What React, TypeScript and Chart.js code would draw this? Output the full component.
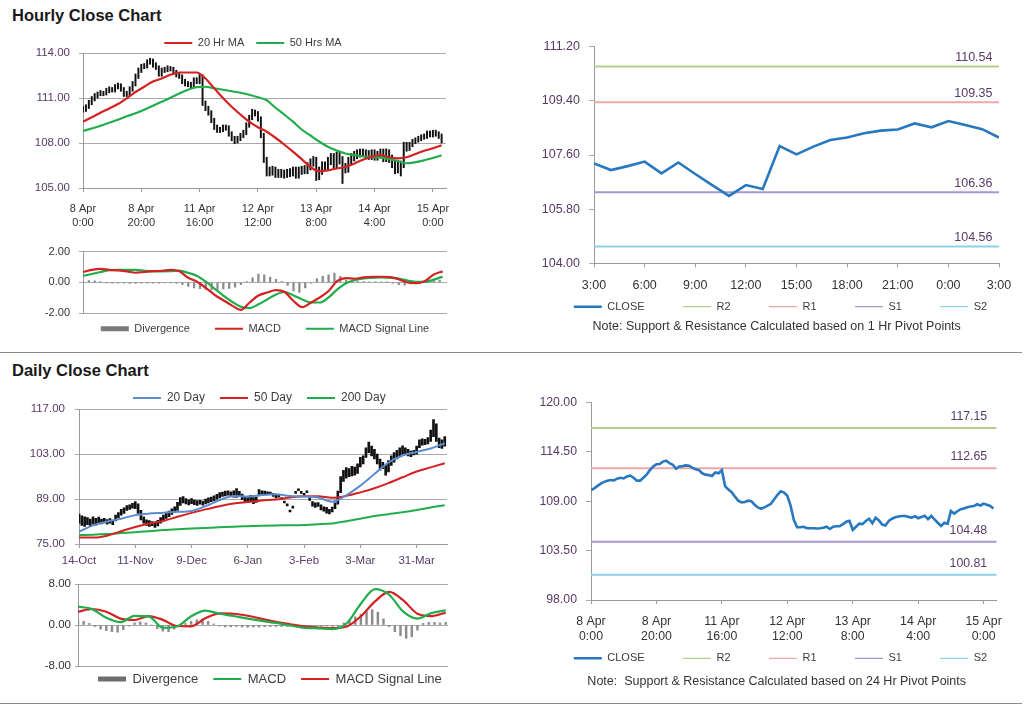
import { useEffect, useRef } from 'react';
import { Chart, registerables } from 'chart.js';

Chart.register(...registerables);

const FONT = "'Liberation Sans', Arial, Helvetica, sans-serif";
const GRID = '#aaaaaa';
const AXIS = '#9a9a9a';
const PURPLE = '#573a66';
const DARK = '#333333';
const LEGEND_TEXT = '#3c3c3c';
const RED = '#d42222';
const GREEN = '#21ad4b';
const BLUE20 = '#5a8ccf';
const CLOSE_BLUE = '#2878c0';
const HIST = '#8c8c8c';
const PIVOT_COLORS = ['#b5d08b', '#eaa8a8', '#a897cf', '#8ed0ea'];

// ---------------- hourly data (8 Apr 0:00 .. 15 Apr 3:00) ----------------
const hourlyTickIdx = [0, 20, 40, 60, 80, 100, 120];
const hourlyTickLabels = [
  ['8 Apr', '0:00'], ['8 Apr', '20:00'], ['11 Apr', '16:00'], ['12 Apr', '12:00'],
  ['13 Apr', '8:00'], ['14 Apr', '4:00'], ['15 Apr', '0:00'],
];
const hourlyYTicks = [105, 108, 111, 114];
const hourlyClose = [
  110.24, 110.43, 110.70, 110.95, 111.15, 111.28, 111.35, 111.30, 111.50, 111.60,
  111.53, 111.75, 111.85, 111.60, 111.28, 111.28, 111.60, 111.95, 112.45, 112.85,
  113.10, 113.13, 113.40, 113.50, 113.22, 113.05, 112.60, 112.85, 112.90, 112.98,
  112.95, 112.70, 112.54, 112.45, 112.10, 111.95, 111.90, 111.80, 112.20, 112.10,
  112.45, 110.65, 110.30, 110.00, 109.50, 109.05, 108.85, 108.90, 109.05, 109.00,
  108.60, 108.30, 108.15, 108.30, 108.50, 108.70, 109.20, 109.70, 110.10, 109.95,
  109.60, 108.50, 106.90, 106.10, 106.10, 106.15, 106.00, 105.98, 105.98, 105.95,
  105.98, 106.05, 106.15, 105.90, 106.15, 106.20, 106.20, 106.45, 106.70, 106.80,
  105.80, 106.15, 106.50, 106.45, 106.80, 107.05, 106.55, 107.15, 106.85, 106.40,
  106.30, 106.80, 107.05, 107.20, 107.30, 107.35, 107.35, 107.25, 107.16, 107.32,
  107.10, 107.23, 107.38, 106.99, 107.35, 106.97, 106.60, 106.24, 106.60, 106.47,
  107.90, 107.62, 107.88, 108.10, 108.18, 108.32, 108.41, 108.45, 108.65, 108.52,
  108.73, 108.60, 108.46, 108.18,
];
const hourlyLow = [
  110.05, 110.10, 110.30, 110.55, 110.80, 111.00, 111.15, 111.15, 111.20, 111.35,
  111.40, 111.40, 111.60, 111.45, 111.10, 111.10, 111.15, 111.45, 111.80, 112.30,
  112.70, 112.95, 113.00, 113.25, 113.05, 112.90, 112.45, 112.45, 112.70, 112.75,
  112.80, 112.55, 112.40, 112.30, 111.95, 111.80, 111.75, 111.65, 111.70, 111.95,
  111.95, 110.50, 110.15, 109.85, 109.35, 108.90, 108.70, 108.70, 108.75, 108.85,
  108.45, 108.15, 107.95, 108.00, 108.15, 108.35, 108.55, 109.05, 109.55, 109.80,
  109.45, 108.35, 106.70, 105.80, 105.80, 105.85, 105.70, 105.70, 105.70, 105.65,
  105.70, 105.75, 105.80, 105.65, 105.65, 105.90, 105.95, 105.95, 106.20, 106.45,
  105.50, 105.55, 105.90, 106.20, 106.20, 106.55, 106.30, 106.30, 106.60, 105.30,
  106.00, 106.05, 106.55, 106.80, 106.95, 107.05, 107.10, 107.00, 106.90, 106.90,
  106.85, 106.85, 107.00, 106.75, 106.75, 106.70, 106.35, 105.95, 106.00, 105.80,
  106.35, 107.45, 107.50, 107.75, 107.95, 108.05, 108.15, 108.25, 108.30, 108.40,
  108.40, 108.45, 108.30, 108.00,
];
const hourlyHigh = [
  110.45, 110.55, 110.85, 111.10, 111.30, 111.40, 111.50, 111.45, 111.65, 111.75,
  111.70, 111.90, 112.00, 111.95, 111.70, 111.45, 111.75, 112.10, 112.60, 113.00,
  113.25, 113.30, 113.55, 113.65, 113.60, 113.35, 113.15, 113.00, 113.05, 113.15,
  113.10, 113.05, 112.85, 112.65, 112.55, 112.25, 112.10, 112.05, 112.35, 112.35,
  112.60, 112.55, 110.80, 110.45, 110.15, 109.65, 109.20, 109.05, 109.20, 109.20,
  109.15, 108.75, 108.45, 108.45, 108.65, 108.85, 109.35, 109.85, 110.25, 110.20,
  110.10, 109.75, 108.65, 107.05, 106.40, 106.45, 106.40, 106.25, 106.25, 106.20,
  106.25, 106.30, 106.40, 106.40, 106.40, 106.45, 106.50, 106.70, 106.95, 107.10,
  107.05, 106.40, 106.75, 106.75, 107.05, 107.30, 107.30, 107.40, 107.40, 107.10,
  106.65, 107.05, 107.30, 107.45, 107.55, 107.60, 107.60, 107.55, 107.50, 107.55,
  107.55, 107.45, 107.60, 107.60, 107.60, 107.55, 107.20, 106.85, 106.85, 106.80,
  108.05, 108.05, 108.05, 108.25, 108.35, 108.45, 108.55, 108.60, 108.80, 108.80,
  108.85, 108.85, 108.75, 108.60,
];
// moving averages and MACD, read every 3rd hour
const HOURLY_SMOOTH_STEP = 3;
const hourlyMa20 = [
  109.42, 109.72, 110.02, 110.30, 110.60, 110.98, 111.40, 111.75, 112.10, 112.30,
  112.55, 112.70, 112.70, 112.70, 112.30, 111.65, 111.00, 110.42, 109.90, 109.42,
  109.05, 108.75, 108.35, 107.90, 107.42, 106.92, 106.40, 106.12, 106.18, 106.30,
  106.40, 106.62, 106.88, 107.08, 107.20, 107.05, 106.98, 107.05, 107.27, 107.48,
  107.65, 107.85,
];
const hourlyMa50 = [
  108.80, 108.97, 109.15, 109.35, 109.55, 109.78, 109.98, 110.22, 110.48, 110.75,
  111.02, 111.30, 111.55, 111.72, 111.75, 111.65, 111.55, 111.45, 111.35, 111.22,
  111.05, 110.85, 110.35, 109.90, 109.42, 108.90, 108.50, 108.10, 107.75, 107.50,
  107.30, 107.20, 107.10, 107.07, 107.02, 106.93, 106.80, 106.65, 106.72, 106.85,
  107.00, 107.18,
];
const hourlyMacdTicks = [-2, 0, 2];
const hourlyMacd = [
  0.68, 0.82, 0.88, 0.82, 0.78, 0.72, 0.63, 0.68, 0.73, 0.76,
  0.82, 0.72, 0.30, 0.05, -0.35, -0.80, -1.15, -1.50, -1.78, -1.30,
  -0.85, -0.65, -0.50, -0.62, -1.20, -1.60, -1.30, -0.97, -0.55, 0.10,
  0.28, 0.24, 0.33, 0.37, 0.37, 0.35, 0.20, 0.00, -0.05, 0.10,
  0.52, 0.72,
];
const hourlySignal = [
  0.43, 0.55, 0.68, 0.80, 0.82, 0.82, 0.82, 0.76, 0.72, 0.72,
  0.73, 0.77, 0.62, 0.42, 0.05, -0.40, -0.85, -1.25, -1.58, -1.66,
  -1.42, -1.10, -0.78, -0.62, -0.84, -1.10, -1.30, -1.30, -0.97, -0.45,
  -0.05, 0.15, 0.26, 0.30, 0.33, 0.30, 0.25, 0.12, 0.04, 0.04,
  0.18, 0.38,
];
// divergence, read every 2nd hour
const HOURLY_HIST_STEP = 2;
const hourlyDivergence = [
  0.12, 0.12, 0.10, 0.05, -0.03, -0.04, -0.05, -0.05, -0.06, -0.06,
  -0.05, -0.05, -0.04, -0.04, -0.03, -0.03, -0.06, -0.15, -0.25, -0.35,
  -0.40, -0.45, -0.48, -0.45, -0.42, -0.38, -0.30, -0.15, 0.05, 0.30,
  0.55, 0.50, 0.35, 0.20, 0.05, -0.20, -0.55, -0.65, -0.35, -0.05,
  0.25, 0.40, 0.50, 0.60, 0.40, 0.15, 0.06, 0.05, 0.05, 0.04,
  0.04, 0.03, 0.02, -0.05, -0.15, -0.18, -0.10, 0.02, 0.03, 0.05,
  0.12, 0.15,
];

// last 24 hours (14 Apr 3:00 .. 15 Apr 3:00) = hourly index 99..123
const LAST_DAY_START = 99;
const lastDayTickIdx = [0, 3, 6, 9, 12, 15, 18, 21, 24];
const lastDayTickLabels = ['3:00', '6:00', '9:00', '12:00', '15:00', '18:00', '21:00', '0:00', '3:00'];
const pivotNames = ['R2', 'R1', 'S1', 'S2'];
const hourlyPivots = [110.54, 109.35, 106.36, 104.56];
const hourlyPivotTicks = [104, 105.8, 107.6, 109.4, 111.2];
const dailyPivots = [117.15, 112.65, 104.48, 100.81];
const dailyPivotTicks = [98, 103.5, 109, 114.5, 120];
const hourlyNote = 'Note: Support & Resistance Calculated based on 1 Hr Pivot Points';
const dailyNote = 'Note:  Support & Resistance Calculated based on 24 Hr Pivot Points';

// ---------------- daily data (14-Oct .. mid-Apr) ----------------
const dailyTickIdx = [0, 20, 40, 60, 80, 100, 120];
const dailyTickLabels = ['14-Oct', '11-Nov', '9-Dec', '6-Jan', '3-Feb', '3-Mar', '31-Mar'];
const dailyYTicks = [75, 89, 103, 117];
const dailyLow = [
  81.5, 80.8, 80.5, 81.0, 80.4, 81.2, 80.9, 81.5, 81.3, 81.6,
  81.2, 81.5, 81.0, 82.2, 83.2, 84.0, 84.5, 85.5, 85.8, 86.2,
  86.0, 84.5, 82.5, 81.5, 80.8, 80.5, 80.7, 80.2, 80.6, 81.5,
  82.5, 83.0, 83.5, 84.2, 84.8, 85.5, 87.0, 87.8, 87.5, 87.2,
  87.6, 87.3, 87.0, 87.4, 87.1, 87.5, 87.8, 88.2, 88.5, 89.0,
  89.4, 89.8, 90.0, 90.2, 89.8, 89.6, 89.5, 89.8, 88.8, 88.2,
  88.0, 88.4, 87.6, 88.0, 90.0, 90.2, 90.5, 90.4, 90.6, 89.8,
  89.4, 89.6, 88.9, 87.8, 86.9, 85.0, 86.2, 90.8, 91.6, 90.8,
  90.2, 91.0, 88.6, 86.8, 86.4, 86.7, 85.6, 85.2, 84.6, 84.4,
  85.0, 86.0, 87.4, 91.0, 94.5, 95.5, 96.0, 96.2, 96.5, 97.0,
  99.0, 100.0, 102.0, 103.5, 102.5, 101.5, 100.0, 98.0, 98.5, 96.5,
  97.5, 99.5, 100.5, 101.5, 102.5, 103.0, 103.2, 102.5, 102.2, 102.8,
  103.0, 105.0, 105.8, 106.0, 106.2, 107.0, 108.5, 107.0, 105.0, 104.8,
  105.5,
];
const dailyHigh = [
  84.3, 83.8, 83.5, 83.2, 82.8, 83.5, 83.0, 83.4, 82.8, 83.0,
  82.6, 82.9, 82.4, 84.0, 84.8, 85.8, 86.3, 87.0, 87.2, 87.7,
  88.2, 87.5, 85.5, 83.5, 82.5, 82.3, 82.0, 81.8, 82.4, 83.2,
  84.0, 84.8, 85.3, 86.0, 86.6, 88.0, 89.5, 89.8, 89.2, 88.8,
  89.2, 88.7, 88.5, 88.6, 88.4, 89.0, 89.4, 89.6, 90.0, 90.5,
  91.0, 91.2, 91.5, 91.6, 91.3, 91.6, 92.3, 91.4, 90.6, 89.8,
  89.5, 90.2, 89.5, 89.6, 92.0, 91.6, 91.5, 91.3, 91.2, 90.8,
  90.3, 90.2, 89.5, 88.4, 87.5, 85.6, 86.8, 91.4, 92.2, 91.4,
  90.8, 91.6, 89.4, 88.2, 87.8, 87.9, 87.2, 86.6, 86.4, 85.8,
  86.5, 87.8, 91.5, 96.0, 98.0, 98.8, 98.5, 99.2, 99.0, 100.0,
  102.0, 102.5, 105.0, 106.8, 105.5, 104.5, 103.0, 101.5, 100.5, 99.5,
  101.0, 102.5, 103.5, 104.2, 105.0, 105.6, 105.0, 104.5, 104.0, 104.2,
  105.5, 107.5, 107.8, 107.6, 108.2, 110.5, 113.8, 112.5, 108.0, 107.5,
  108.5,
];
// moving averages and MACD, read every 5th day
const DAILY_SMOOTH_STEP = 5;
const dailyMa20 = [
  78.85, 80.8, 82.0, 82.9, 84.0, 84.5, 84.75, 85.05, 85.3, 86.8,
  88.7, 90.0, 89.8, 90.25, 90.5, 90.0, 89.8, 89.5, 88.2, 90.2,
  93.2, 96.8, 100.4, 102.6, 103.7, 104.8, 106.4,
];
const dailyMa50 = [
  77.0, 77.0, 77.6, 79.0, 80.3, 81.4, 82.2, 83.5, 84.7, 85.8,
  86.8, 87.6, 88.1, 88.6, 88.9, 89.5, 89.9, 89.9, 89.4, 90.0,
  91.1, 92.4, 94.0, 95.8, 97.6, 98.9, 100.2,
];
const dailyMa200 = [
  77.8, 77.9, 78.1, 78.4, 78.7, 79.0, 79.35, 79.6, 79.8, 80.0,
  80.2, 80.4, 80.55, 80.7, 80.8, 80.85, 80.95, 81.15, 81.4, 82.1,
  82.9, 83.7, 84.3, 84.9, 85.6, 86.4, 87.1,
];
const dailyMacdTicks = [-8, 0, 8];
const dailyMacd = [
  3.58, 3.10, 1.40, 0.55, 1.80, 1.70, -0.55, -0.30, 1.70, 2.80,
  2.20, 1.75, 1.25, 0.80, 0.40, -0.10, -0.55, -0.65, -0.80, 0.35,
  4.15, 7.00, 5.90, 2.60, 1.25, 2.35, 2.85,
];
const dailySignal = [
  2.60, 3.12, 2.60, 1.25, 0.98, 1.75, 1.00, -0.20, -0.25, 1.30,
  2.28, 2.20, 1.80, 1.20, 0.60, 0.15, -0.28, -0.50, -0.62, -0.30,
  1.70, 4.60, 6.45, 4.80, 2.20, 1.75, 2.40,
];
// divergence, read every 2nd day
const DAILY_HIST_STEP = 2;
const dailyDivergence = [
  1.0, 0.7, 0.3, -0.3, -0.8, -1.1, -1.3, -1.4, -0.9, -0.2,
  0.4, 0.6, 0.4, 0.0, -0.7, -1.2, -1.3, -0.8, -0.2, 0.3,
  0.7, 1.0, 1.1, 0.7, 0.2, -0.2, -0.4, -0.35, -0.3, -0.4,
  -0.45, -0.4, -0.4, -0.35, -0.3, -0.3, -0.3, -0.25, -0.3, -0.35,
  -0.3, -0.3, -0.25, -0.2, -0.2, -0.25, -0.3, 0.4, 1.0, 1.6,
  2.1, 2.6, 3.0, 2.5, 1.2, -0.3, -1.3, -2.1, -2.6, -2.3,
  -1.0, 0.3, 0.5, 0.5, 0.4, 0.5,
];

// ---------------- helpers ----------------
const pts = (vals: number[], step: number) => vals.map((y, k) => ({ x: k * step, y }));
const candles = (lo: number[], hi: number[]) => hi.map((h, i) => ({ x: i, y: [lo[i], h] }));

function legendPlugin(cx: number, cy: number, pad: number, size: number) {
  return {
    id: 'placeLegend',
    afterLayout(chart: any) {
      const lg = chart.legend;
      if (!lg) return;
      const total = (lg.lineWidths || []).reduce((a: number, b: number) => a + b, 0);
      lg.lineWidths = [total];
      const top = cy - pad - size / 2;
      lg.top = top;
      lg.bottom = top + size + 2 * pad;
      lg.height = size + 2 * pad;
      lg.left = cx - 1000;
      lg.right = cx + 1000;
      lg.width = 2000;
    },
  };
}

function pivotPlugin(values: number[], size: number, dx: number, dy: number) {
  return {
    id: 'pivotLabels',
    afterDatasetsDraw(chart: any) {
      const { ctx, chartArea, scales } = chart;
      ctx.save();
      ctx.font = `${size}px ${FONT}`;
      ctx.fillStyle = PURPLE;
      ctx.textAlign = 'right';
      ctx.textBaseline = 'middle';
      values.forEach((v) => ctx.fillText(v.toFixed(2), chartArea.right - dx, scales.y.getPixelForValue(v) - dy));
      ctx.restore();
    },
  };
}

function notePlugin(text: string, cx: number, cy: number, size: number) {
  return {
    id: 'noteText',
    afterDraw(chart: any) {
      const { ctx } = chart;
      ctx.save();
      ctx.font = `${size}px ${FONT}`;
      ctx.fillStyle = DARK;
      ctx.textAlign = 'center';
      ctx.textBaseline = 'middle';
      ctx.fillText(text, cx, cy);
      ctx.restore();
    },
  };
}

function yAxis(ticks: number[], width: number, o: any) {
  return {
    type: 'linear',
    min: ticks[0],
    max: ticks[ticks.length - 1],
    beginAtZero: false,
    afterBuildTicks: (s: any) => { s.ticks = ticks.map((value) => ({ value })); },
    afterFit: (s: any) => { s.width = width; },
    ticks: {
      color: o.color, font: { family: FONT, size: o.size }, padding: o.pad,
      callback: (v: any) => Number(v).toFixed(2),
    },
    grid: { display: true, drawOnChartArea: o.grid, drawTicks: true, tickLength: o.tl, color: GRID, lineWidth: 1 },
    border: { display: true, color: AXIS, width: 1 },
  };
}

function xAxis(max: number, tickIdx: number[], labels: any[], height: number, o: any) {
  return {
    type: 'linear',
    min: 0,
    max,
    offset: false,
    afterBuildTicks: (s: any) => { s.ticks = tickIdx.map((value) => ({ value })); },
    afterFit: (s: any) => { s.height = height; },
    ticks: {
      autoSkip: false, maxRotation: 0, minRotation: 0, color: o.color,
      font: { family: FONT, size: o.size, lineHeight: o.lh }, padding: o.pad,
      callback: (_v: any, i: number) => labels[i],
    },
    grid: { display: true, drawOnChartArea: false, drawTicks: true, tickLength: 4, color: AXIS, offset: false },
    border: { display: true, color: AXIS, width: 1 },
  };
}

const hiddenX = (max: number) => ({ type: 'linear', min: 0, max, offset: false, display: false, grid: { offset: false } });

const legendCfg = (size: number, pad: number) => ({
  display: true,
  position: 'bottom',
  maxHeight: 1,
  labels: {
    usePointStyle: true,
    pointStyle: 'line',
    pointStyleWidth: 28,
    padding: pad,
    font: { family: FONT, size },
    color: LEGEND_TEXT,
    generateLabels: (chart: any) => chart.data.datasets
      .map((ds: any, i: number) => ({ ds, i }))
      .filter((o: any) => !!o.ds.label)
      .map((o: any) => ({
        text: o.ds.label,
        fillStyle: 'rgba(0,0,0,0)',
        strokeStyle: o.ds.legendColor || o.ds.borderColor,
        lineWidth: o.ds.legendWidth || 2,
        pointStyle: 'line',
        hidden: false,
        datasetIndex: o.i,
        fontColor: LEGEND_TEXT,
        lineCap: 'butt',
      })),
  },
});

function lineDs(label: string, data: any[], color: string, width: number, order: number, smooth = true, legendWidth = 2) {
  return {
    type: 'line', label, data, borderColor: color, backgroundColor: color, borderWidth: width,
    pointRadius: 0, fill: false, order, legendWidth,
    cubicInterpolationMode: smooth ? 'monotone' : 'default', tension: 0,
  };
}

function pivotDs(values: number[], maxX: number) {
  return pivotNames.map((name, k) => ({
    type: 'line', label: name,
    data: [{ x: 0, y: values[k] }, { x: maxX, y: values[k] }],
    borderColor: PIVOT_COLORS[k], backgroundColor: PIVOT_COLORS[k], borderWidth: 2,
    pointRadius: 0, fill: false, order: k + 1, legendWidth: 1.3,
  }));
}

function opts(p: any) {
  return {
    responsive: false,
    animation: false,
    devicePixelRatio: 1,
    events: [],
    layout: { padding: p.padding },
    scales: { x: p.x, y: p.y },
    plugins: {
      legend: legendCfg(p.legendSize, p.legendPad),
      title: { display: false },
      tooltip: { enabled: false },
    },
  };
}

// ---------------- chart configs ----------------
const cfgHourlyCandles = () => ({
  type: 'line',
  data: {
    datasets: [
      { type: 'bar', data: candles(hourlyLow, hourlyHigh), backgroundColor: '#111111', borderWidth: 0, barThickness: 1.3, order: 10 },
      lineDs('20 Hr MA', pts(hourlyMa20, HOURLY_SMOOTH_STEP), RED, 2.2, 1),
      lineDs('50 Hrs MA', pts(hourlyMa50, HOURLY_SMOOTH_STEP), GREEN, 2.2, 2),
    ],
  },
  options: opts({
    padding: { left: 20, right: 14, top: 29, bottom: 1 },
    x: xAxis(124.5, hourlyTickIdx, hourlyTickLabels, 40, { color: DARK, size: 11, lh: 1.25, pad: 10 }),
    y: yAxis(hourlyYTicks, 63, { grid: true, color: PURPLE, size: 11.5, pad: 9, tl: 4 }),
    legendSize: 11, legendPad: 12,
  }),
  plugins: [legendPlugin(253, 19, 12, 11)],
});

const cfgHourlyMacd = () => ({
  type: 'line',
  data: {
    datasets: [
      { type: 'bar', label: 'Divergence', data: pts(hourlyDivergence, HOURLY_HIST_STEP), backgroundColor: HIST, borderWidth: 0, barThickness: 1.6, order: 10, legendColor: '#7a7a7a', legendWidth: 5 },
      lineDs('MACD', pts(hourlyMacd, HOURLY_SMOOTH_STEP), RED, 2.2, 1),
      lineDs('MACD Signal Line', pts(hourlySignal, HOURLY_SMOOTH_STEP), GREEN, 2.2, 2),
    ],
  },
  options: opts({
    padding: { left: 20, right: 13, top: 9, bottom: 29.7 },
    x: hiddenX(124.5),
    y: yAxis(hourlyMacdTicks, 63, { grid: true, color: DARK, size: 11, pad: 9, tl: 4 }),
    legendSize: 11, legendPad: 25,
  }),
  plugins: [legendPlugin(265, 92.7, 25, 11)],
});

const cfgHourlyPivot = () => ({
  type: 'line',
  data: {
    datasets: [
      lineDs('CLOSE', pts(hourlyClose.slice(LAST_DAY_START), 1), CLOSE_BLUE, 2.6, 0, false, 2.5),
      ...pivotDs(hourlyPivots, 24),
    ],
  },
  options: opts({
    padding: { left: 16, right: 25, top: 16.7, bottom: 47.7 },
    x: xAxis(24, lastDayTickIdx, lastDayTickLabels, 30, { color: DARK, size: 12.5, lh: 1.2, pad: 10.9 }),
    y: yAxis(hourlyPivotTicks, 58, { grid: false, color: PURPLE, size: 12.5, pad: 9, tl: 5 }),
    legendSize: 11, legendPad: 38.4,
  }),
  plugins: [
    legendPlugin(260.5, 276.7, 38.4, 11),
    pivotPlugin(hourlyPivots, 12.5, 6.5, 9),
    notePlugin(hourlyNote, 256.7, 296.7, 12.5),
  ],
});

const cfgDailyCandles = () => ({
  type: 'line',
  data: {
    datasets: [
      { type: 'bar', data: candles(dailyLow, dailyHigh), backgroundColor: '#111111', borderWidth: 0, barThickness: 2, order: 10 },
      lineDs('20 Day', pts(dailyMa20, DAILY_SMOOTH_STEP), BLUE20, 2, 1),
      lineDs('50 Day', pts(dailyMa50, DAILY_SMOOTH_STEP), RED, 2, 2),
      lineDs('200 Day', pts(dailyMa200, DAILY_SMOOTH_STEP), GREEN, 2, 3),
    ],
  },
  options: opts({
    padding: { left: 20, right: 13, top: 27.3, bottom: 1 },
    x: xAxis(130.8, dailyTickIdx, dailyTickLabels, 22, { color: PURPLE, size: 11.5, lh: 1.2, pad: 6 }),
    y: yAxis(dailyYTicks, 59, { grid: true, color: PURPLE, size: 11.5, pad: 10, tl: 4 }),
    legendSize: 12, legendPad: 15,
  }),
  plugins: [legendPlugin(259.3, 16, 15, 12)],
});

const cfgDailyMacd = () => ({
  type: 'line',
  data: {
    datasets: [
      { type: 'bar', label: 'Divergence', data: pts(dailyDivergence, DAILY_HIST_STEP), backgroundColor: HIST, borderWidth: 0, barThickness: 1.8, order: 10, legendColor: '#6e6e6e', legendWidth: 5 },
      lineDs('MACD', pts(dailyMacd, DAILY_SMOOTH_STEP), GREEN, 2.2, 1),
      lineDs('MACD Signal Line', pts(dailySignal, DAILY_SMOOTH_STEP), RED, 2.2, 2),
    ],
  },
  options: opts({
    padding: { left: 20, right: 12, top: 12, bottom: 29 },
    x: hiddenX(130.8),
    y: yAxis(dailyMacdTicks, 58, { grid: true, color: DARK, size: 11.5, pad: 4, tl: 3 }),
    legendSize: 13, legendPad: 15,
  }),
  plugins: [legendPlugin(269.9, 107, 15, 13)],
});

const cfgDailyPivot = () => ({
  type: 'line',
  data: {
    datasets: [
      lineDs('CLOSE', pts(hourlyClose, 1), CLOSE_BLUE, 2.6, 0, false, 2.5),
      ...pivotDs(dailyPivots, 124),
    ],
  },
  options: opts({
    padding: { left: 16, right: 27.3, top: 18.3, bottom: 55 },
    x: xAxis(124, hourlyTickIdx, hourlyTickLabels, 44, { color: DARK, size: 12.3, lh: 1.22, pad: 10.2 }),
    y: yAxis(dailyPivotTicks, 55, { grid: false, color: PURPLE, size: 12.3, pad: 9, tl: 5 }),
    legendSize: 11, legendPad: 38.4,
  }),
  plugins: [
    legendPlugin(260.5, 274.3, 38.4, 11),
    pivotPlugin(dailyPivots, 12.3, 9.5, 11.5),
    notePlugin(dailyNote, 256.7, 297.7, 12.5),
  ],
});

// ---------------- components ----------------
function ChartCanvas({ left, top, width, height, make }: any) {
  const ref = useRef<HTMLCanvasElement | null>(null);
  useEffect(() => {
    const chart = new Chart(ref.current as HTMLCanvasElement, make() as any);
    return () => chart.destroy();
  }, []);
  return (
    <canvas
      ref={ref}
      width={width}
      height={height}
      style={{ position: 'absolute', left, top, width, height, display: 'block' }}
    />
  );
}

const headStyle: any = {
  position: 'absolute', left: 12, font: `bold 16.5px ${FONT}`, lineHeight: '17px',
  color: '#1a1a1a', whiteSpace: 'nowrap', margin: 0,
};
const ruleStyle: any = { position: 'absolute', left: 0, width: 1022, height: 1, background: '#8a8a8a' };

export default function App() {
  return (
    <div style={{ position: 'fixed', left: 0, top: 0, width: 1024, height: 706, background: '#ffffff', overflow: 'hidden' }}>
      <div style={{ ...headStyle, top: 6.8 }}>Hourly Close Chart</div>
      <div style={{ ...ruleStyle, top: 352 }} />
      <div style={{ ...headStyle, top: 361.8 }}>Daily Close Chart</div>
      <div style={{ ...ruleStyle, top: 703 }} />
      <ChartCanvas left={0} top={24} width={460} height={206} make={cfgHourlyCandles} />
      <ChartCanvas left={0} top={236} width={460} height={108} make={cfgHourlyMacd} />
      <ChartCanvas left={520} top={30} width={504} height={312} make={cfgHourlyPivot} />
      <ChartCanvas left={0} top={382} width={460} height={186} make={cfgDailyCandles} />
      <ChartCanvas left={0} top={572} width={460} height={124} make={cfgDailyMacd} />
      <ChartCanvas left={520} top={384} width={504} height={316} make={cfgDailyPivot} />
    </div>
  );
}
